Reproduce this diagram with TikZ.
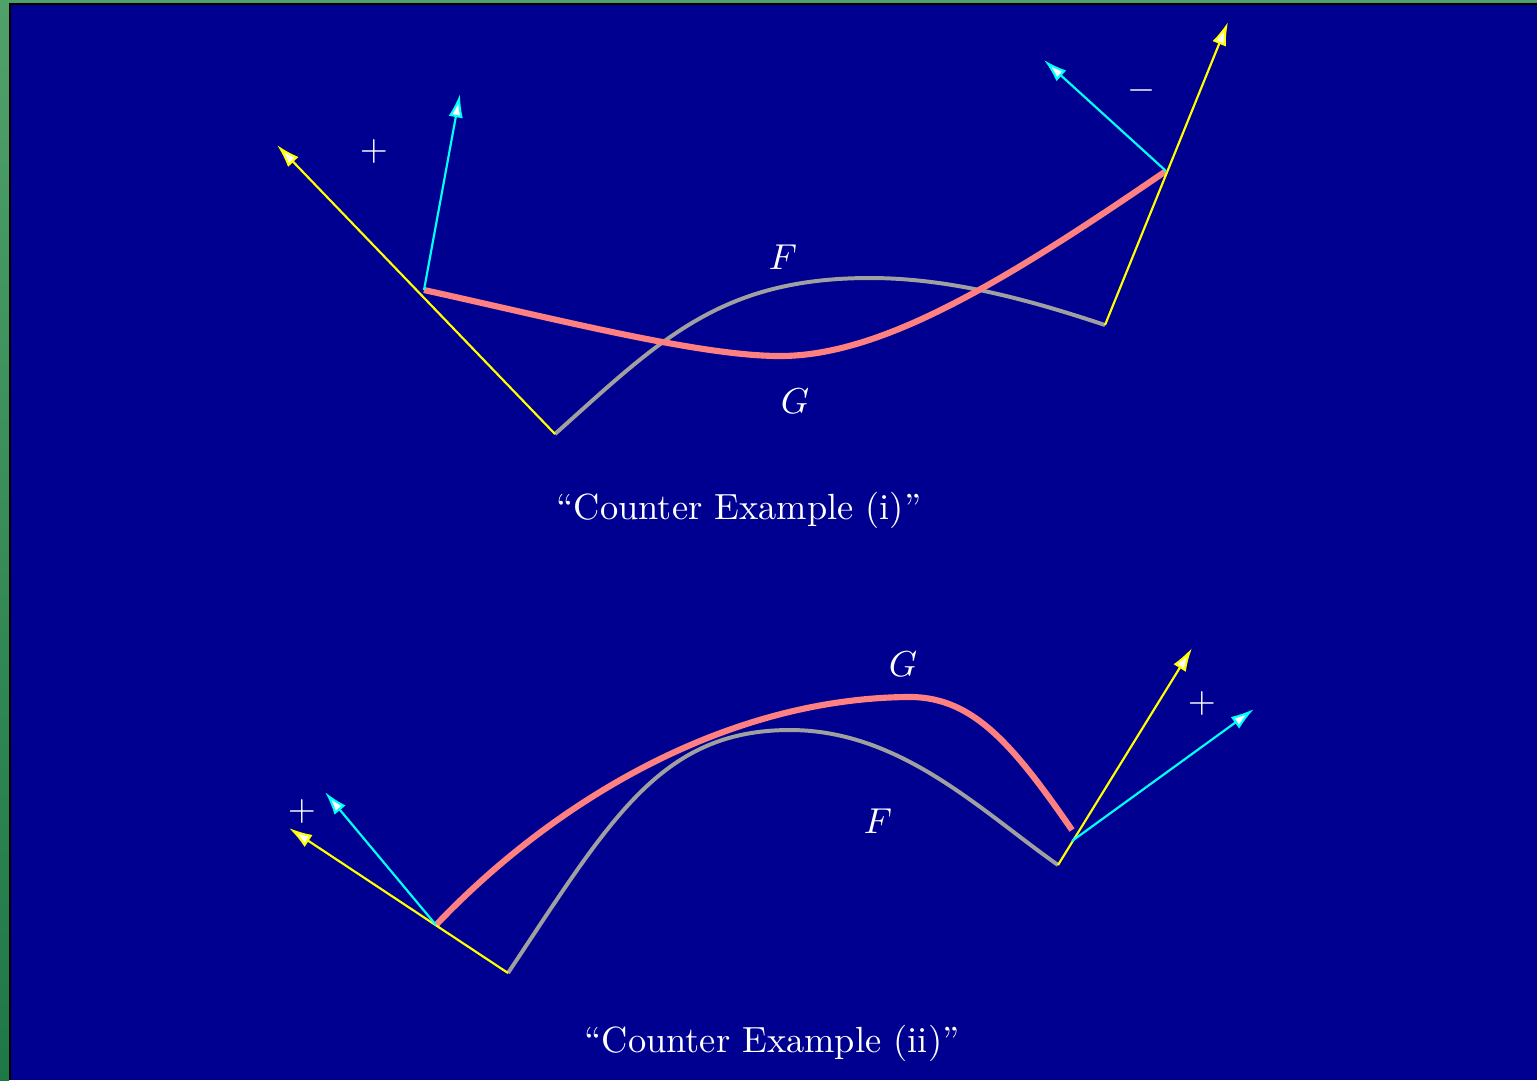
\documentclass[tikz,border=0pt]{standalone}
\usepackage{amsmath}
\usepackage{tikz}
\usetikzlibrary{arrows.meta}

\definecolor{slideblue}{RGB}{0,0,144}
\definecolor{curvepink}{RGB}{255,128,128}
\definecolor{curvegray}{RGB}{160,160,160}
\definecolor{normalcyan}{RGB}{0,255,255}
\definecolor{normalyellow}{RGB}{255,255,0}
\definecolor{frametop}{RGB}{80,160,105}
\definecolor{framebot}{RGB}{30,120,70}

\begin{document}
\begin{tikzpicture}[
    x=0.2775pt, y=-0.2775pt,
    >={Latex[fill=white,length=6.5pt,width=4pt]},
    fcurve/.style={draw=curvegray, line width=1.1pt},
    gcurve/.style={draw=curvepink, line width=1.7pt},
    ynormal/.style={->, normalyellow, line width=0.6pt},
    cnormal/.style={->, normalcyan, line width=0.6pt},
    lbl/.style={text=white, inner sep=0pt},
    caption/.style={text=white, font=\fontsize{10.1}{12}\selectfont}
  ]

  \useasboundingbox (0,0) rectangle (1537,1080);
  \fill[slideblue] (0,0) rectangle (1537,1080);
  \shade[top color=frametop, bottom color=framebot] (0,0) rectangle (9,1080);
  \fill[frametop] (0,0) rectangle (1537,3);
  \fill[black] (9,3) rectangle (11,1080);
  \fill[black] (9,3) rectangle (1537,5);

  % Counter example (i)
  \coordinate (Fs1) at (555,434);
  \coordinate (Fe1) at (1105,325);
  \coordinate (Gs1) at (424,290);
  \coordinate (Ge1) at (1166,171);
  \coordinate (yl1) at (277,145);
  \coordinate (yr1) at (1228,22);
  \coordinate (cl1) at (460,94);
  \coordinate (cr1) at (1044,60);

  \draw[fcurve] (Fs1) .. controls (660,340) and (720,278) .. (870,278)
    .. controls (950,278) and (1030,300) .. (Fe1);
  \draw[gcurve] (Gs1) .. controls (560,320) and (700,356) .. (780,356)
    .. controls (880,356) and (1000,285) .. (Ge1);

  \draw[ynormal] (Fs1) -- (yl1);
  \draw[ynormal] (Fe1) -- (yr1);
  \draw[cnormal] (Gs1) -- (cl1);
  \draw[cnormal] (Ge1) -- (cr1);

  \node[lbl] (plus1) at (374,151) {$+$};
  \node[lbl] (minus1) at (1142,90) {$-$};
  \node[lbl] (F1) at (783,257) {$F$};
  \node[lbl] (G1) at (795,401) {$G$};
  \node[caption] (cap1) at (739,510) {``Counter Example (i)''};

  % Counter example (ii)
  \coordinate (Fs2) at (508,973);
  \coordinate (Fe2) at (1058,865);
  \coordinate (Gs2) at (436,925);
  \coordinate (Ge2) at (1072,830);
  \coordinate (Gc2) at (1072,841);
  \coordinate (yl2) at (289,828);
  \coordinate (yr2) at (1192,648);
  \coordinate (cl2) at (325,792);
  \coordinate (cr2) at (1254,709);

  \draw[fcurve] (Fs2) .. controls (610,820) and (660,730) .. (790,730)
    .. controls (900,730) and (980,810) .. (Fe2);
  \draw[gcurve] (Gs2) .. controls (550,805) and (720,700) .. (905,697)
    .. controls (970,695) and (1010,740) .. (Ge2);

  \draw[ynormal] (Fs2) -- (yl2);
  \draw[ynormal] (Fe2) -- (yr2);
  \draw[cnormal] (Gs2) -- (cl2);
  \draw[cnormal] (Gc2) -- (cr2);

  \node[lbl] (plus2) at (302,811) {$+$};
  \node[lbl] (plus3) at (1202,703) {$+$};
  \node[lbl] (G2) at (903,664) {$G$};
  \node[lbl] (F2) at (878,821) {$F$};
  \node[caption] (cap2) at (772,1043) {``Counter Example (ii)''};

\end{tikzpicture}
\end{document}
